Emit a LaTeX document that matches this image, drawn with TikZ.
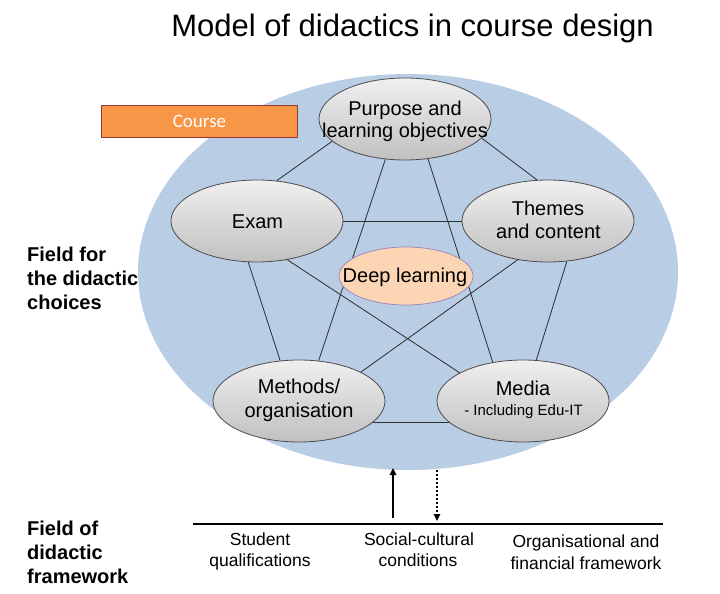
\documentclass[tikz,border=0pt]{standalone}
\usepackage{fontspec}
\setmainfont{Liberation Sans}
\newfontfamily\calibrifont{Carlito}
\usetikzlibrary{shapes.geometric,arrows.meta}
\definecolor{fieldblue}{RGB}{185,205,229}
\definecolor{peach}{RGB}{252,213,181}
\definecolor{peachline}{RGB}{150,130,185}
\definecolor{courseorange}{RGB}{247,150,70}
\definecolor{coursered}{RGB}{149,55,53}
\definecolor{edgegray}{RGB}{45,45,45}
\definecolor{topgray}{RGB}{240,240,240}
\definecolor{botgray}{RGB}{192,192,192}
\begin{document}
\begin{tikzpicture}[x=1pt,y=-1pt,
  topic/.style={ellipse, draw=black!70, line width=0.8pt, top color=topgray, bottom color=botgray,
    minimum width=172pt, minimum height=82pt, inner sep=0pt},
  deepnode/.style={ellipse, draw=peachline, line width=0.7pt, fill=peach,
    minimum width=134pt, minimum height=58pt, inner sep=0pt},
  link/.style={draw=edgegray, line width=0.8pt},
  lbl/.style={inner sep=0pt, anchor=base, font=\fontsize{20}{24}\selectfont},
  smalllbl/.style={inner sep=0pt, anchor=base, font=\fontsize{15}{18}\selectfont},
  fieldlbl/.style={inner sep=0pt, anchor=base west, font=\bfseries\fontsize{20}{24}\selectfont},
  baselbl/.style={inner sep=0pt, anchor=base, font=\fontsize{17.5}{21}\selectfont},
  arrowline/.style={line width=1.5pt, -{Triangle[length=7pt,width=6.5pt]}}
]
\useasboundingbox (0,0) rectangle (720,594);
\fill[white] (0,0) rectangle (720,594);

% title
\node[inner sep=0pt, anchor=base, font=\fontsize{31}{36}\selectfont] (title) at (412.5,37) {Model of didactics in course design};

% field of didactic choices
\node[ellipse, fill=fieldblue, minimum width=540pt, minimum height=396pt, inner sep=0pt] (field) at (408,272) {};

% course box
\node[draw=coursered, fill=courseorange, line width=1.8pt, minimum width=196pt, minimum height=32pt,
  inner sep=0pt, text=white, font=\calibrifont\fontsize{19}{22}\selectfont] (course) at (199.5,121.5) {Course};

% topic ellipses
\node[topic] (purpose) at (405,119) {};
\node[topic] (exam) at (257,221) {};
\node[topic] (themes) at (548,221) {};
\node[topic] (methods) at (299,401) {};
\node[topic] (media) at (523,401) {};

% connectors
\draw[link] (purpose.197) -- (exam.64);
\draw[link] (purpose.-14) -- (themes.105);
\draw[link] (purpose.244) -- (methods.64);
\draw[link] (purpose.300) -- (media.128);
\draw[link] (exam.0) -- (themes.180);
\draw[link] (exam.258) -- (methods.115);
\draw[link] (exam.308) -- (media.156);
\draw[link] (themes.232) -- (methods.25);
\draw[link] (themes.295) -- (media.72);
\draw[link] (methods.-16) -- (media.196);

% deep learning
\node[deepnode] (deep) at (406,276) {};

% texts in ellipses
\node[lbl] (purpose1) at (405,115) {Purpose and};
\node[lbl] (purpose2) at (405,137) {learning objectives};
\node[lbl] (examt) at (257.5,228) {Exam};
\node[lbl] (themes1) at (548,215) {Themes};
\node[lbl] (themes2) at (548.5,238) {and content};
\node[lbl] (deept) at (405,282) {Deep learning};
\node[lbl] (methods1) at (299,393) {Methods/};
\node[lbl] (methods2) at (299,417) {organisation};
\node[lbl] (media1) at (523,395) {Media};
\node[smalllbl] (media2) at (523.5,415) {- Including Edu-IT};

% left field labels
\node[fieldlbl] (ff1) at (27,261) {Field for};
\node[fieldlbl] (ff2) at (27,285) {the didactic};
\node[fieldlbl] (ff3) at (27,309) {choices};
\node[fieldlbl] (fo1) at (27,535) {Field of};
\node[fieldlbl] (fo2) at (27,559) {didactic};
\node[fieldlbl] (fo3) at (27,583) {framework};

% framework base line
\coordinate (bl) at (193,524);
\coordinate (br) at (663,524);
\draw[line width=1.6pt] (bl) -- (br);

% arrows
\coordinate (up0) at (393,518);
\coordinate (up1) at (393,468);
\draw[arrowline] (up0) -- (up1);
\coordinate (dn0) at (437,470);
\coordinate (dn1) at (437,521);
\draw[arrowline, dash pattern=on 2pt off 2pt] (dn0) -- (dn1);

% framework labels
\node[baselbl] (st1) at (260,545) {Student};
\node[baselbl] (st2) at (260,566) {qualifications};
\node[baselbl] (sc1) at (419,545) {Social-cultural};
\node[baselbl] (sc2) at (418,566) {conditions};
\node[baselbl] (of1) at (586,547) {Organisational and};
\node[baselbl] (of2) at (586,569) {financial framework};
\end{tikzpicture}
\end{document}
